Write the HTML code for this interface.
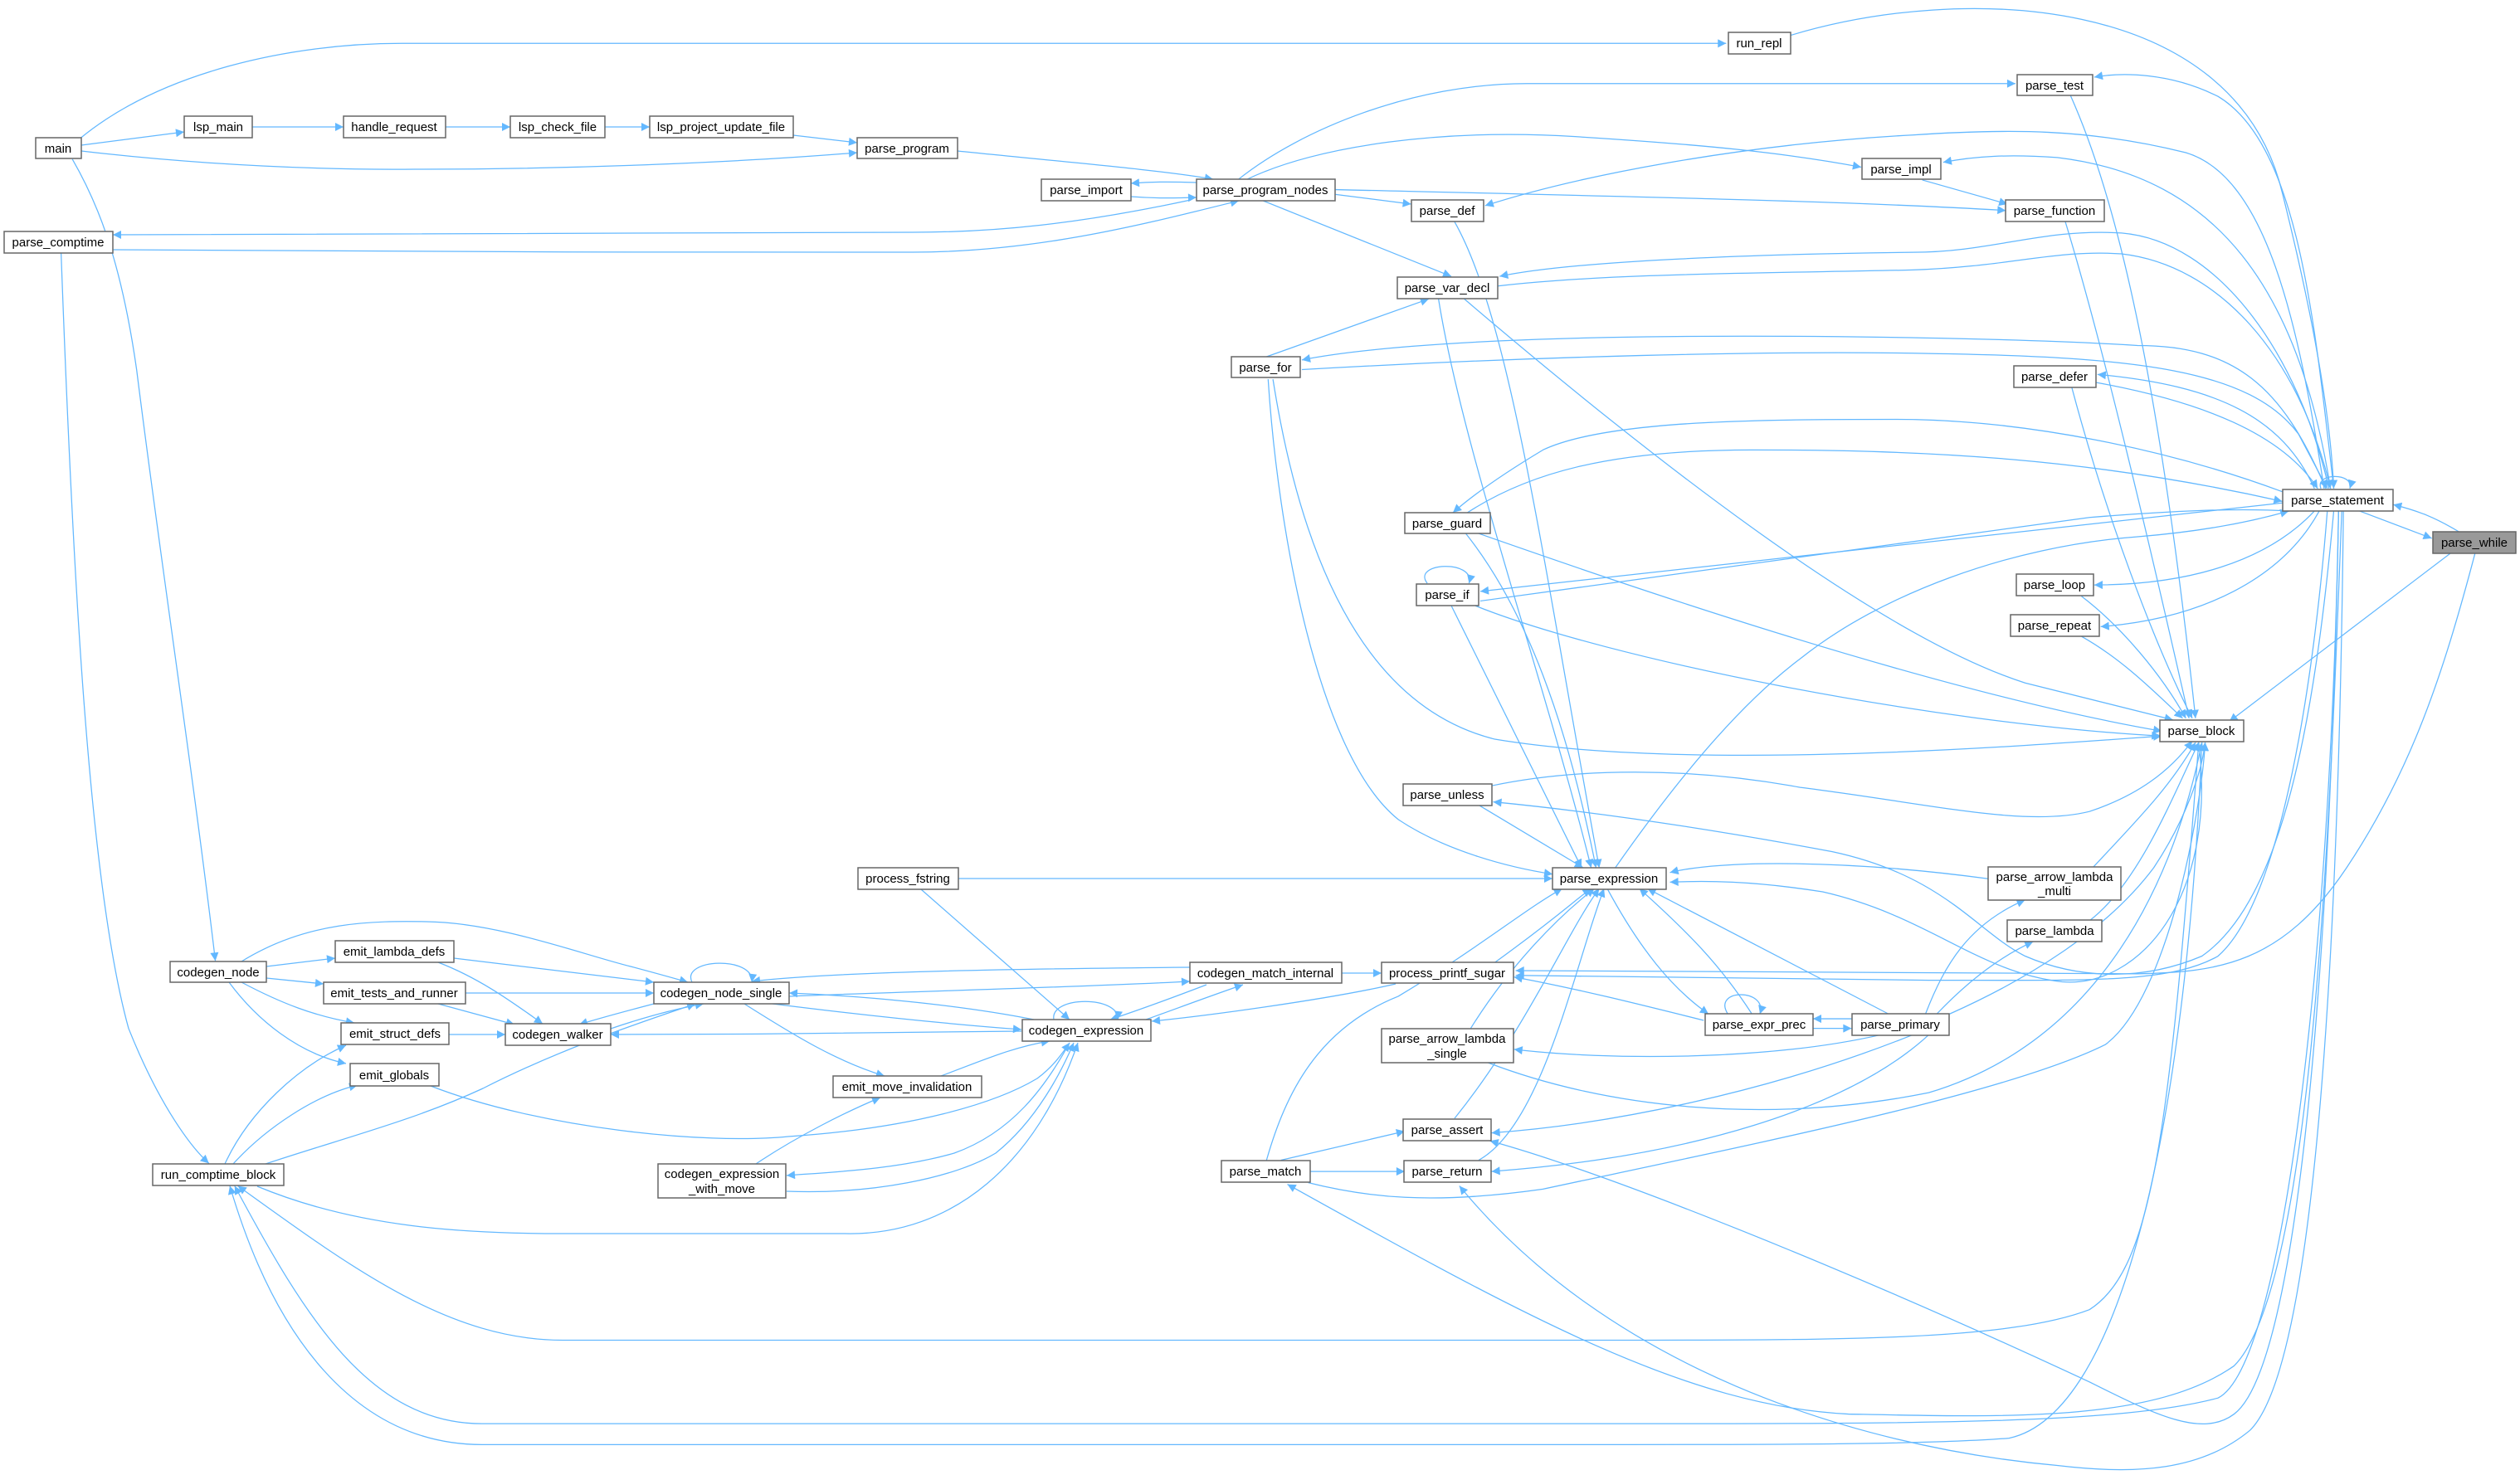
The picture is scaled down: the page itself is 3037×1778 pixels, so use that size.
<!DOCTYPE html>
<html><head><meta charset="utf-8"><style>
html,body{margin:0;padding:0;background:#fff;}
svg{display:block;}
text{font-family:"Liberation Sans",sans-serif;font-size:15px;fill:#000;}
</style></head><body>
<svg width="3037" height="1778" viewBox="0 0 3037 1778" xmlns="http://www.w3.org/2000/svg">
<defs>
<marker id="a" viewBox="0 0 10 10" refX="10" refY="5" markerWidth="11" markerHeight="8" orient="auto" markerUnits="strokeWidth">
<path d="M0,0 L10,5 L0,10 z" fill="#63b8ff"/></marker>
</defs>
<g fill="none" stroke="#63b8ff" stroke-width="0.65" marker-end="url(#a)" transform="scale(1.937)">
<path d="M50,86 C100,45 180,27 250,27 L1074,27"/>
<path d="M1114,22 C1220,-10 1390,-5 1420,120 C1440,200 1450,260 1452,304"/>
<path d="M770,112 C810,80 880,52 950,52 L1254,52"/>
<path d="M1452,304 C1440,200 1430,90 1380,60 C1350,45 1320,45 1303,48"/>
<path d="M1288,59 C1320,130 1345,250 1366,447"/>
<path d="M775,112 C820,90 900,80 980,85 C1060,90 1110,95 1158,104"/>
<path d="M1450,304 C1430,180 1380,110 1280,98 C1250,96 1230,97 1209,101"/>
<path d="M1196,112 L1249,127"/>
<path d="M831,118 C1000,122 1150,125 1248,131"/>
<path d="M1285,138 C1310,220 1340,350 1362,447"/>
<path d="M831,121 L878,127"/>
<path d="M1446,304 C1430,200 1410,110 1360,95 C1300,80 1250,80 1190,84 C1080,90 980,110 924,128"/>
<path d="M905,138 C940,200 960,350 995,540"/>
<path d="M786,125 L903,172"/>
<path d="M1449,304 C1430,220 1380,150 1320,145 C1270,142 1240,157 1190,157 C1100,158 980,162 933,172"/>
<path d="M932,178 C1000,170 1100,170 1190,168 C1250,166 1280,155 1320,158 C1380,165 1430,220 1450,304"/>
<path d="M788,222 L889,186"/>
<path d="M895,186 C910,280 960,420 990,540"/>
<path d="M911,186 Q1150,390 1260,425 Q1320,440 1352,448"/>
<path d="M1447,304 C1420,240 1390,215 1330,215 C1250,210 1100,208 1000,210 C900,212 840,218 810,224"/>
<path d="M810,230 C950,222 1100,218 1200,220 C1330,222 1400,230 1430,270 L1448,304"/>
<path d="M789,236 C795,330 820,470 870,510 C900,530 940,540 966,544"/>
<path d="M792,236 C810,350 850,440 930,460 C1050,480 1250,465 1345,458"/>
<path d="M1440,304 C1420,260 1380,240 1305,233"/>
<path d="M1304,238 C1370,250 1420,270 1442,304"/>
<path d="M1289,241 C1310,320 1340,400 1364,447"/>
<path d="M1420,306 C1350,280 1260,261 1180,261 C1100,261 1000,261 960,280 C940,292 920,305 904,319"/>
<path d="M913,319 C950,295 1000,280 1090,280 C1200,280 1300,285 1420,312"/>
<path d="M920,332 C1000,360 1200,430 1345,455"/>
<path d="M912,332 C950,380 975,450 993,540"/>
<path d="M888,363 C878,350 918,348 914,363"/>
<path d="M1420,313 L921,368"/>
<path d="M921,374 C1100,350 1250,328 1300,322 C1350,318 1390,316 1425,318"/>
<path d="M918,377 C1000,410 1200,450 1344,458"/>
<path d="M903,377 L984,540"/>
<path d="M1440,318 C1410,350 1360,364 1303,364"/>
<path d="M1443,318 C1420,360 1370,385 1307,390"/>
<path d="M1295,371 C1320,390 1345,420 1360,447"/>
<path d="M1295,396 C1320,410 1340,430 1358,447"/>
<path d="M1468,318 L1513,335"/>
<path d="M1530,331 C1515,322 1505,318 1489,314"/>
<path d="M1525,344 L1387,449"/>
<path d="M1540,344 C1520,420 1500,480 1460,540 C1420,600 1380,605 1330,606 L943,604"/>
<path d="M1448,318 C1440,420 1420,560 1380,595 C1350,612 1300,610 1200,610 L943,607"/>
<path d="M1368,462 C1380,560 1330,615 1283,611 C1230,605 1200,570 1134,555 C1090,548 1060,548 1039,549"/>
<path d="M1452,318 C1440,450 1420,560 1370,595 C1330,612 1290,608 1260,595 C1230,580 1210,545 1140,530 C1060,515 990,505 929,499"/>
<path d="M928,489 C980,478 1050,477 1120,490 C1200,500 1260,515 1300,505 C1330,495 1350,480 1364,461"/>
<path d="M920,501 L985,540"/>
<path d="M1005,540 C1040,490 1080,440 1120,410 C1170,370 1250,340 1330,334 C1380,330 1410,322 1424,318"/>
<path d="M1238,547 C1150,535 1070,535 1039,543"/>
<path d="M1302,540 C1330,510 1350,490 1366,462"/>
<path d="M1198,631 C1210,600 1225,575 1260,560"/>
<path d="M1205,631 C1225,610 1245,595 1265,586"/>
<path d="M1300,573 C1330,550 1350,500 1368,462"/>
<path d="M1213,631 C1260,610 1310,580 1340,540 C1360,510 1370,480 1372,462"/>
<path d="M1175,631 L1025,553"/>
<path d="M1000,553 C1020,590 1040,615 1063,631"/>
<path d="M1090,631 C1070,600 1050,580 1020,553"/>
<path d="M1075,631 C1065,615 1100,615 1095,631"/>
<path d="M1128,640 L1152,640"/>
<path d="M1152,634 L1128,634"/>
<path d="M1060,635 C1020,625 980,615 942,608"/>
<path d="M930,599 C970,570 980,560 990,553"/>
<path d="M915,640 C940,600 970,570 992,553"/>
<path d="M1170,644 C1100,660 1000,660 942,653"/>
<path d="M925,661 C1000,690 1100,700 1200,680 C1300,650 1350,560 1370,462"/>
<path d="M905,696 C950,640 975,580 995,553"/>
<path d="M1190,644 C1100,680 1000,700 928,705"/>
<path d="M1200,644 C1150,690 1050,720 928,729"/>
<path d="M920,722 C960,700 980,600 998,553"/>
<path d="M788,722 C800,680 820,640 870,620 C920,590 950,565 972,553"/>
<path d="M797,722 L874,704"/>
<path d="M815,729 L874,729"/>
<path d="M814,736 C850,745 890,750 960,740 C1100,710 1250,680 1310,650 C1350,620 1370,500 1372,462"/>
<path d="M1457,318 C1450,500 1440,800 1390,850 C1340,885 1250,882 1150,880 C1050,875 950,820 801,737"/>
<path d="M1455,318 C1450,600 1430,850 1390,880 C1370,895 1340,880 1300,860 C1150,790 1000,730 927,710"/>
<path d="M1458,318 C1455,600 1440,850 1400,890 C1370,915 1330,918 1280,912 C1150,900 1000,850 908,738"/>
<path d="M1368,462 C1350,700 1340,790 1300,815 C1250,834 1150,834 1000,834 L350,834 C280,834 220,790 148,738"/>
<path d="M1455,318 C1450,600 1420,850 1380,870 C1320,886 1200,886 1000,886 L300,886 C230,886 190,820 146,738"/>
<path d="M1370,462 C1360,700 1320,880 1250,895 C1200,899 1100,899 1000,899 L300,899 C220,899 170,830 143,738"/>
<path d="M38,157 C45,350 55,550 80,640 C100,690 120,715 130,724"/>
<path d="M45,99 C60,125 75,160 85,230 C100,350 120,480 134,598"/>
<path d="M1444,304 C1440,294 1465,294 1462,304"/>
</g>
<g fill="none" stroke="#63b8ff" stroke-width="1.25" marker-end="url(#a)">
<path d="M98,175 L222,159"/>
<path d="M304,153 L414,153"/>
<path d="M537,153 L615,153"/>
<path d="M729,153 L783,153"/>
<path d="M956,163 L1033,172"/>
<path d="M98,182 C250,200 400,205 500,204 C700,204 900,195 1033,184"/>
<path d="M1154,182 C1280,195 1400,205 1462,216"/>
<path d="M1442,220 C1410,219 1390,219 1363,221"/>
<path d="M1363,237 C1390,239 1410,239 1442,238"/>
<path d="M1435,241 C1300,270 1200,280 1100,280 L136,283"/>
<path d="M136,301 C400,304 800,304 1100,304 C1250,304 1380,270 1493,242"/>
<path d="M291,1159 C370,1110 450,1110 514,1111 C600,1112 700,1150 760,1165 C790,1173 815,1180 829,1184"/>
<path d="M321,1165 L404,1155"/>
<path d="M321,1179 L390,1186"/>
<path d="M291,1184 C340,1210 380,1225 427,1233"/>
<path d="M276,1184 C310,1230 360,1270 417,1282"/>
<path d="M547,1155 L788,1184"/>
<path d="M528,1160 C580,1180 620,1210 654,1234"/>
<path d="M561,1197 L788,1197"/>
<path d="M528,1210 L620,1235"/>
<path d="M541,1247 L609,1247"/>
<path d="M788,1210 C750,1220 720,1228 698,1235"/>
<path d="M736,1240 C780,1225 820,1215 848,1210"/>
<path d="M834,1184 C820,1155 910,1152 906,1184"/>
<path d="M1434,1166 C1200,1168 1000,1172 906,1183"/>
<path d="M951,1201 C1100,1195 1300,1190 1434,1183"/>
<path d="M1246,1229 C1150,1210 1030,1200 951,1197"/>
<path d="M931,1210 C1050,1225 1150,1235 1231,1241"/>
<path d="M1231,1243 C1100,1245 900,1247 736,1247"/>
<path d="M897,1210 C960,1250 1010,1280 1066,1297"/>
<path d="M1134,1297 C1180,1280 1220,1262 1265,1255"/>
<path d="M911,1403 C960,1370 1020,1340 1061,1323"/>
<path d="M1289,1257 C1260,1310 1220,1365 1150,1390 C1080,1410 1000,1413 948,1417"/>
<path d="M948,1436 C1050,1440 1150,1420 1200,1390 C1250,1350 1280,1290 1294,1257"/>
<path d="M1110,1072 L1289,1229"/>
<path d="M1155,1059 L1871,1059"/>
<path d="M1270,1229 C1265,1200 1350,1200 1347,1229"/>
<path d="M1454,1187 C1420,1200 1380,1215 1338,1229"/>
<path d="M1381,1229 C1420,1215 1460,1200 1498,1187"/>
<path d="M1682,1186 C1600,1205 1450,1225 1388,1231"/>
<path d="M1617,1173 L1665,1173"/>
<path d="M519,1309 C650,1360 850,1380 950,1370 C1100,1360 1200,1330 1250,1300 C1270,1285 1280,1270 1289,1257"/>
<path d="M271,1403 C300,1340 360,1285 417,1260"/>
<path d="M281,1403 C320,1360 380,1320 431,1308"/>
<path d="M320,1403 C420,1370 500,1350 582,1312 C680,1262 780,1230 838,1210"/>
<path d="M310,1430 C430,1480 560,1487 679,1487 L1018,1487 C1150,1490 1250,1400 1299,1257"/>
</g>
<g stroke="#666" stroke-width="1.5" fill="#fff">
<rect x="43" y="166" width="55" height="25"/>
<rect x="222" y="140" width="82" height="26"/>
<rect x="414" y="140" width="123" height="26"/>
<rect x="615" y="140" width="114" height="26"/>
<rect x="783" y="140" width="173" height="26"/>
<rect x="1033" y="166" width="121" height="25"/>
<rect x="1255" y="216" width="108" height="26"/>
<rect x="1442" y="216" width="167" height="26"/>
<rect x="5" y="279" width="131" height="26"/>
<rect x="1484" y="430" width="83" height="25"/>
<rect x="2083" y="39" width="75" height="26"/>
<rect x="2431" y="90" width="91" height="25"/>
<rect x="2244" y="191" width="95" height="25"/>
<rect x="1701" y="241" width="87" height="26"/>
<rect x="2417" y="241" width="119" height="26"/>
<rect x="1684" y="334" width="121" height="26"/>
<rect x="2427" y="441" width="99" height="26"/>
<rect x="2751" y="590" width="133" height="26"/>
<rect x="2932" y="641" width="100" height="26" fill="#999"/>
<rect x="1693" y="618" width="103" height="25"/>
<rect x="1707" y="704" width="75" height="26"/>
<rect x="2430" y="692" width="93" height="26"/>
<rect x="2423" y="741" width="107" height="26"/>
<rect x="2603" y="868" width="101" height="26"/>
<rect x="205" y="1159" width="116" height="25"/>
<rect x="404" y="1134" width="143" height="26"/>
<rect x="390" y="1184" width="171" height="26"/>
<rect x="788" y="1184" width="163" height="26"/>
<rect x="411" y="1233" width="130" height="26"/>
<rect x="609" y="1234" width="127" height="26"/>
<rect x="422" y="1282" width="107" height="27"/>
<rect x="184" y="1403" width="158" height="26"/>
<rect x="1034" y="1046" width="121" height="26"/>
<rect x="1232" y="1229" width="155" height="26"/>
<rect x="1004" y="1297" width="179" height="26"/>
<rect x="793" y="1403" width="154" height="41"/>
<rect x="1434" y="1160" width="183" height="25"/>
<rect x="1472" y="1399" width="107" height="26"/>
<rect x="1691" y="945" width="107" height="26"/>
<rect x="1871" y="1046" width="137" height="26"/>
<rect x="2396" y="1045" width="160" height="40"/>
<rect x="2419" y="1109" width="114" height="26"/>
<rect x="1665" y="1160" width="159" height="25"/>
<rect x="2055" y="1222" width="130" height="26"/>
<rect x="2232" y="1222" width="117" height="26"/>
<rect x="1665" y="1240" width="159" height="41"/>
<rect x="1691" y="1349" width="106" height="26"/>
<rect x="1692" y="1399" width="105" height="26"/>
</g>
<g text-anchor="middle">
<text x="70" y="184">main</text>
<text x="263" y="158">lsp_main</text>
<text x="475" y="158">handle_request</text>
<text x="672" y="158">lsp_check_file</text>
<text x="869" y="158">lsp_project_update_file</text>
<text x="1093" y="184">parse_program</text>
<text x="1309" y="234">parse_import</text>
<text x="1525" y="234">parse_program_nodes</text>
<text x="70" y="297">parse_comptime</text>
<text x="1525" y="448">parse_for</text>
<text x="2120" y="57">run_repl</text>
<text x="2476" y="108">parse_test</text>
<text x="2291" y="209">parse_impl</text>
<text x="1744" y="259">parse_def</text>
<text x="2476" y="259">parse_function</text>
<text x="1744" y="352">parse_var_decl</text>
<text x="2476" y="459">parse_defer</text>
<text x="2817" y="608">parse_statement</text>
<text x="2982" y="659">parse_while</text>
<text x="1744" y="636">parse_guard</text>
<text x="1744" y="722">parse_if</text>
<text x="2476" y="710">parse_loop</text>
<text x="2476" y="759">parse_repeat</text>
<text x="2653" y="886">parse_block</text>
<text x="263" y="1177">codegen_node</text>
<text x="475" y="1152">emit_lambda_defs</text>
<text x="475" y="1202">emit_tests_and_runner</text>
<text x="869" y="1202">codegen_node_single</text>
<text x="476" y="1251">emit_struct_defs</text>
<text x="672" y="1252">codegen_walker</text>
<text x="475" y="1301">emit_globals</text>
<text x="263" y="1421">run_comptime_block</text>
<text x="1094" y="1064">process_fstring</text>
<text x="1309" y="1247">codegen_expression</text>
<text x="1093" y="1315">emit_move_invalidation</text>
<text x="870" y="1420">codegen_expression</text>
<text x="870" y="1438">_with_move</text>
<text x="1525" y="1178">codegen_match_internal</text>
<text x="1525" y="1417">parse_match</text>
<text x="1744" y="963">parse_unless</text>
<text x="1939" y="1064">parse_expression</text>
<text x="2476" y="1062">parse_arrow_lambda</text>
<text x="2476" y="1079">_multi</text>
<text x="2476" y="1127">parse_lambda</text>
<text x="1744" y="1178">process_printf_sugar</text>
<text x="2120" y="1240">parse_expr_prec</text>
<text x="2290" y="1240">parse_primary</text>
<text x="1744" y="1257">parse_arrow_lambda</text>
<text x="1744" y="1275">_single</text>
<text x="1744" y="1367">parse_assert</text>
<text x="1744" y="1417">parse_return</text>
</g>
</svg>
</body></html>
